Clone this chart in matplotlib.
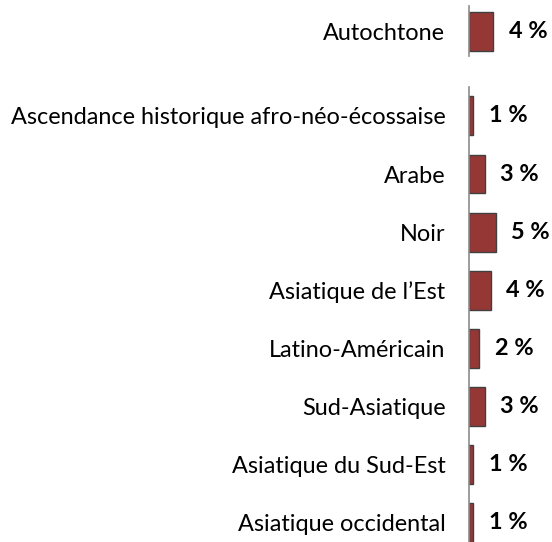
import matplotlib
matplotlib.use("Agg")
import matplotlib.pyplot as plt

categories = ["Autochtone",
              "Ascendance historique afro-néo-écossaise",
              "Arabe",
              "Noir",
              "Asiatique de l\u2019Est",
              "Latino-Américain",
              "Sud-Asiatique",
              "Asiatique du Sud-Est",
              "Asiatique occidental"]
values = [4.5, 0.8, 2.9, 5.0, 4.1, 1.9, 2.9, 0.8, 0.8]
value_labels = ["4 %", "1 %", "3 %", "5 %", "4 %", "2 %", "3 %", "1 %", "1 %"]

W, H = 552, 542
fig = plt.figure(figsize=(W / 100, H / 100), dpi=100)
ax = fig.add_axes([469 / W, 0, (W - 469) / W, 1])

# row positions: first group separated by a gap
ypos = [0] + [1.45 + i for i in range(len(categories) - 1)]

ax.barh(ypos, values, height=0.67, color="#953735", edgecolor="#404040",
        linewidth=1.0, zorder=3)

ax.set_xlim(0, (W - 469) / 5.4)
ax.set_ylim(8.45 + 0.33, -0.543)

for s in ax.spines.values():
    s.set_visible(False)
ax.set_xticks([])
ax.set_yticks(ypos)
ax.set_yticklabels(categories, fontsize=16.9, family="Lato")
ax.tick_params(axis="y", length=0, pad=17)

# axis segments
ax.plot([0, 0], [-0.44, 0.42], color="#8c8c8c", lw=1.2, clip_on=False, zorder=4)
ax.plot([0, 0], [0.95, 9.5], color="#8c8c8c", lw=1.2, clip_on=False, zorder=4)

for y, v, t in zip(ypos, values, value_labels):
    ax.annotate(t, (v, y), xytext=(11, 0), textcoords="offset points",
                ha="left", va="center", fontsize=16.9, fontweight="bold",
                family="Lato", color="black")

fig.savefig("out.png", dpi=100)
